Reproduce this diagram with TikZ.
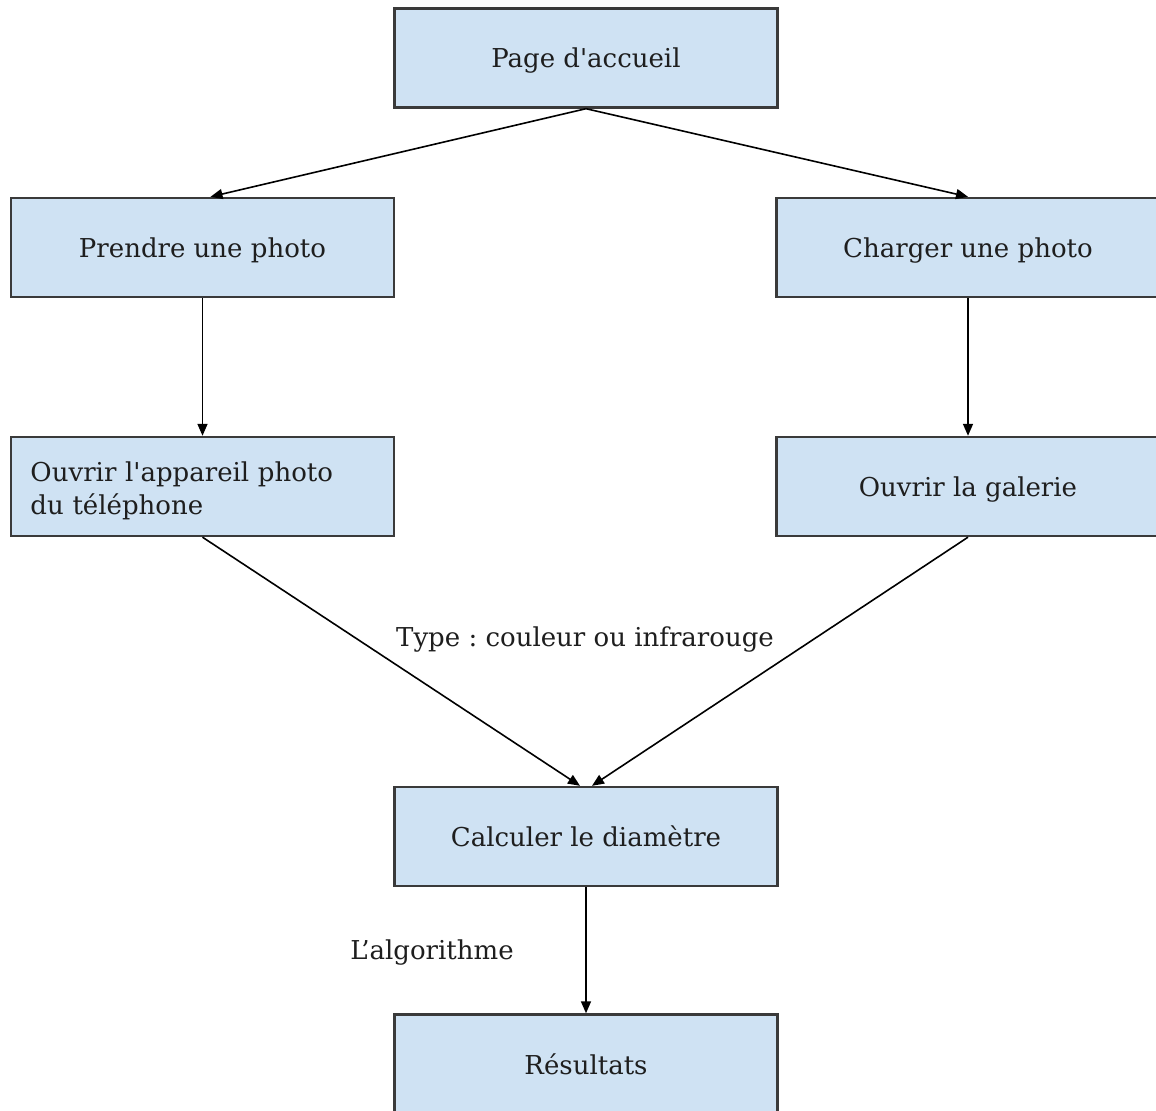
\documentclass[tikz,border=0pt]{standalone}
\usepackage{fontspec}
\setmainfont{DejaVu Serif}
\usetikzlibrary{arrows.meta,calc}
\definecolor{boxfill}{HTML}{CFE2F3}
\definecolor{boxline}{HTML}{3A3A3A}
\definecolor{txt}{HTML}{1E1E1E}
\begin{document}
\frenchspacing
\begin{tikzpicture}[x=0.5pt,y=-0.5pt,
  box/.style={draw=boxline,line width=1.2pt,fill=boxfill,minimum width=191.5pt,minimum height=49.5pt,
    inner sep=0pt,text depth=0pt,font=\fontsize{13}{16.5}\selectfont,text=txt},
  lbl/.style={font=\fontsize{13}{16.5}\selectfont,text=txt,inner sep=0pt,text depth=0pt},
  conn/.style={line width=0.8pt,-{Triangle[length=6pt,width=5pt]}}]
\useasboundingbox (0,0) rectangle (1156,1111);
\node[box] (page) at (586,58) {Page d\textquotesingle accueil};
\node[box] (prendre) at (202.5,247.5) {Prendre une photo};
\node[box] (charger) at (968,247.5) {Charger une photo};
\node[box,text depth=,align=left,text width=172pt] (ouvrir) at (202.5,486.5) {\rule{0pt}{14pt}Ouvrir l\textquotesingle appareil photo\\du téléphone};
\node[box] (galerie) at (968,486.5) {Ouvrir la galerie};
\node[box] (calc) at (586,836.5) {Calculer le diamètre};
\node[box] (res) at (586,1064) {Résultats};
\node[lbl] (ltype) at (585,637) {Type : couleur ou infrarouge};
\node[lbl] (lalgo) at (432,950) {L’algorithme};
\draw[conn] (page.south) -- ([xshift=4pt]prendre.north);
\draw[conn] (page.south) -- (charger.north);
\draw[conn] (prendre.south) -- (ouvrir.north);
\draw[conn] (charger.south) -- (galerie.north);
\draw[conn] (ouvrir.south) -- ([xshift=-3pt]calc.north);
\draw[conn] (galerie.south) -- ([xshift=3pt]calc.north);
\draw[conn] (calc.south) -- (res.north);
\end{tikzpicture}
\end{document}
